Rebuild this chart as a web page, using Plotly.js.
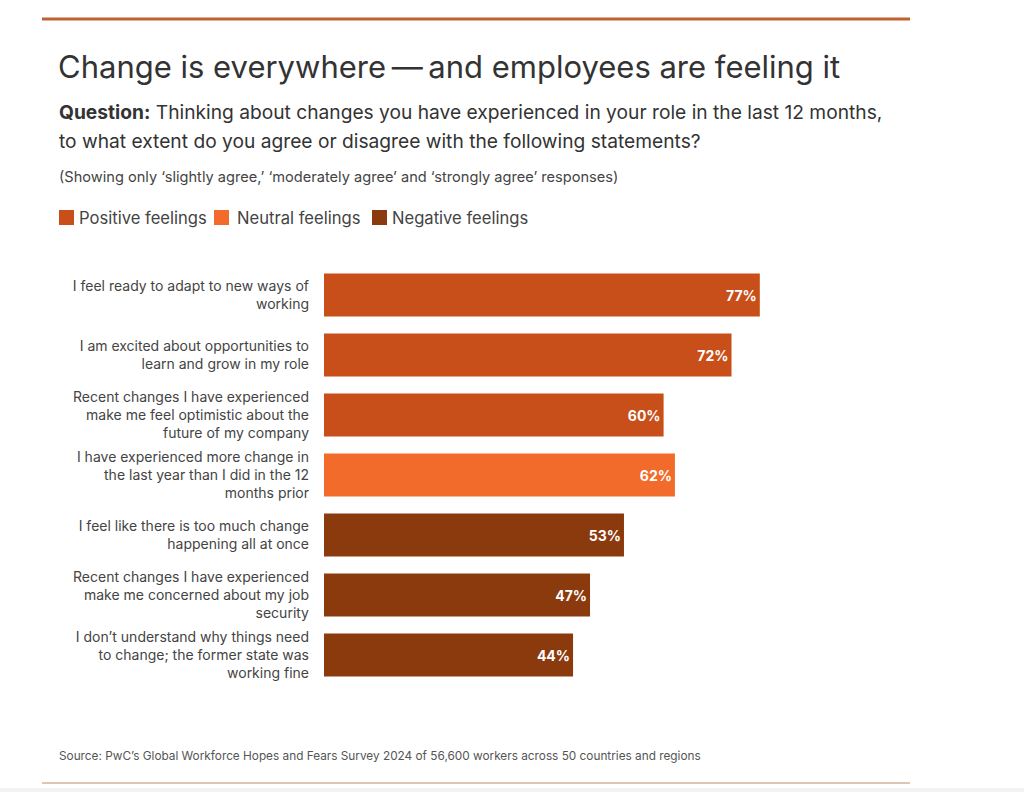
<!DOCTYPE html>
<html>
<head>
<meta charset="utf-8">
<script src="https://cdn.plot.ly/plotly-3.0.1.min.js"></script>
<style>
  html, body { margin: 0; padding: 0; background: #ffffff; }
  #chart { width: 1024px; height: 792px; }
</style>
</head>
<body>
<div id="chart"></div>
<script>
// ---- Data ----
var categories = [
  "I feel ready to adapt to new ways of<br>working",
  "I am excited about opportunities to<br>learn and grow in my role",
  "Recent changes I have experienced<br>make me feel optimistic about the<br>future of my company",
  "I have experienced more change in<br>the last year than I did in the 12<br>months prior",
  "I feel like there is too much change<br>happening all at once",
  "Recent changes I have experienced<br>make me concerned about my job<br>security",
  "I don\u2019t understand why things need<br>to change; the former state was<br>working fine"
];
var values = [77, 72, 60, 62, 53, 47, 44];
var groups = ["Positive", "Positive", "Positive", "Neutral", "Negative", "Negative", "Negative"];
var legendNames = ["Positive feelings", "Neutral feelings", "Negative feelings"];
var legendKeys = ["Positive", "Neutral", "Negative"];

// ---- Styles ----
var colorMap = { Positive: "#c84f19", Neutral: "#f26b2b", Negative: "#8b3a0e" };
var FONT = "Inter, Liberation Sans, Arial, sans-serif";
var W = 1024, H = 792;
var M = { l: 324, r: 134, t: 265, b: 107 };
var PW = W - M.l - M.r, PH = H - M.t - M.b;
function px(x) { return (x - M.l) / PW; }
function py(y) { return 1 - (y - M.t) / PH; }

var trace = {
  type: "bar",
  orientation: "h",
  y: categories,
  x: values,
  marker: { color: groups.map(function (g) { return colorMap[g]; }) },
  text: values.map(function (v) { return v + "%"; }),
  textposition: "inside",
  insidetextanchor: "end",
  textfont: { family: FONT, size: 14, color: "#ffffff", weight: "bold" },
  cliponaxis: false,
  hoverinfo: "skip",
  showlegend: false
};

var annotations = [
  { text: "<b>Question:</b> Thinking about changes you have experienced in your role in the last 12 months,",
    x: px(57), y: py(112), font: { size: 19.2, color: "#333333" } },
  { text: "to what extent do you agree or disagree with the following statements?",
    x: px(57), y: py(141), font: { size: 19.2, color: "#333333" } },
  { text: "(Showing only \u2018slightly agree,\u2019 \u2018moderately agree\u2019 and \u2018strongly agree\u2019 responses)",
    x: px(57), y: py(177), font: { size: 14.6, color: "#444444" } },
  { text: "Source: PwC\u2019s Global Workforce Hopes and Fears Survey 2024 of 56,600 workers across 50 countries and regions",
    x: px(57), y: py(756), font: { size: 11.8, color: "#555555" } }
];

var shapes = [
  { type: "line", xref: "paper", yref: "paper", x0: px(42), x1: px(910), y0: py(19), y1: py(19),
    line: { color: "#c0622f", width: 3 } },
  { type: "line", xref: "paper", yref: "paper", x0: px(42), x1: px(910), y0: py(783), y1: py(783),
    line: { color: "#d2b49b", width: 1.5 } },
  { type: "rect", xref: "paper", yref: "paper", x0: px(0), x1: px(1024), y0: py(788), y1: py(792),
    fillcolor: "#f3f3f3", line: { width: 0 }, layer: "below" }
];

// legend built from the legend arrays
var legendSquareX = [59, 214, 372];
var legendTextX = [77, 235, 390];
legendKeys.forEach(function (k, i) {
  shapes.push({ type: "rect", xref: "paper", yref: "paper",
    x0: px(legendSquareX[i]), x1: px(legendSquareX[i] + 15), y0: py(225), y1: py(210),
    fillcolor: colorMap[k], line: { width: 0 } });
  annotations.push({ text: legendNames[i], x: px(legendTextX[i]), y: py(217.5),
    font: { size: 16.6, color: "#444444" } });
});

annotations.forEach(function (a) {
  a.xref = "paper"; a.yref = "paper"; a.xanchor = "left"; a.yanchor = "middle";
  a.showarrow = false; a.align = "left";
  a.font.family = FONT;
});

var layout = {
  width: W, height: H,
  margin: M,
  paper_bgcolor: "#ffffff",
  plot_bgcolor: "#ffffff",
  font: { family: FONT, color: "#444444" },
  title: {
    text: "Change is everywhere\u2009\u2014\u2009and employees are feeling it",
    xref: "container", yref: "container",
    x: 58 / W, xanchor: "left",
    y: 1 - 67 / H, yanchor: "middle",
    font: { family: FONT, size: 31, color: "#333333" }
  },
  bargap: 0.28,
  xaxis: { range: [0, 100], visible: false, fixedrange: true },
  yaxis: {
    autorange: "reversed",
    showgrid: false, zeroline: false, showline: false, ticks: "",
    ticklabelstandoff: 14,
    tickfont: { family: FONT, size: 14, color: "#444444" },
    fixedrange: true
  },
  shapes: shapes,
  annotations: annotations
};

Plotly.newPlot("chart", [trace], layout, { displayModeBar: false, staticPlot: true });
</script>
</body>
</html>
